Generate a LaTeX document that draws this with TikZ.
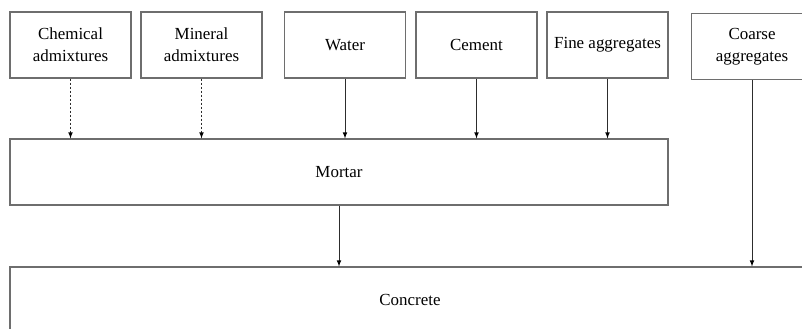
\documentclass[tikz,border=0pt]{standalone}
\usepackage{fontspec}
\setmainfont{Liberation Serif}
\usetikzlibrary{arrows}

\definecolor{boxgray}{RGB}{110,110,110}
\definecolor{arrgray}{RGB}{45,45,45}

\tikzset{
  box/.style={draw=boxgray, line width=0.8pt, inner sep=0pt, align=center,
    minimum width=90.75pt, minimum height=49.5pt,
    font=\fontsize{12.7}{16.5}\selectfont},
  wide/.style={box, minimum width=#1},
  feed/.style={-{latex[scale=1.3]}, draw=arrgray, line width=0.6pt},
  feeddash/.style={feed, dash pattern=on 1.5pt off 1.5pt}
}

\begin{document}
\begin{tikzpicture}[x=0.75pt,y=-0.75pt]
\useasboundingbox (0,0) rectangle (802,328);
\clip (0,0) rectangle (802,328);

\node[box] (C) at (70.5,45) {Chemical\\admixtures};
\node[box] (M) at (201.5,45) {Mineral\\admixtures};
\node[box] (W) at (345,45) {Water};
\node[box] (E) at (476.5,45) {Cement};
\node[box] (F) at (607.5,45) {Fine aggregates};
\node[box] (G) at (752,46.5) {Coarse\\aggregates};
\node[wide=493.5pt] (R) at (339,172) {Mortar};
\node[wide=600pt] (K) at (410,300) {Concrete};

\path [feeddash] (C) edge (C |- R.north);
\path [feeddash] (M) edge (M |- R.north);
\path [feed] (W) edge (W |- R.north);
\path [feed] (E) edge (E |- R.north);
\path [feed] (F) edge (F |- R.north);
\path [feed] (R) edge (R |- K.north);
\path [feed] (G) edge (G |- K.north);
\end{tikzpicture}
\end{document}
